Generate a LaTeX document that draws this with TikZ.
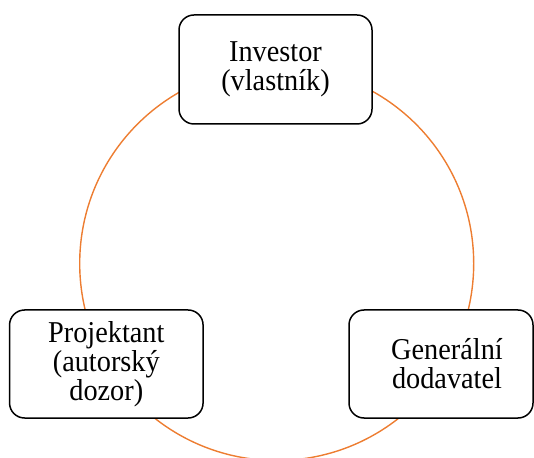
\documentclass[tikz,border=0pt]{standalone}
\usepackage{graphicx}
\usepackage{fontspec}
\setmainfont{Liberation Serif}
\definecolor{ringorange}{HTML}{ED7D31}
% each text line set slightly taller than the regular face
\newcommand\tallline[1]{\scalebox{1}[1.07]{#1}}
\begin{document}
\begin{tikzpicture}[x=1pt,y=1pt,
  stagebox/.style={draw=black, line width=1.5pt, fill=white, rounded corners=15pt,
    align=center, inner sep=0pt,
    font=\fontsize{28.3}{29}\selectfont},
  ringline/.style={draw=ringorange, line width=1.4pt}]
  \useasboundingbox (0,0) rectangle (534,457);
  \clip (0,0) rectangle (534,457);
  % ring of the cycle, behind the three stages
  \coordinate (hub) at (276.7,193.5);
  \draw[ringline] (hub) circle[radius=197];
  % stages
  \node[stagebox, minimum width=193pt, minimum height=109pt] (inv) at (275.5,387.5)
    {\tallline{Investor}\\\tallline{(vlastník)}};
  \node[stagebox, minimum width=193.5pt, minimum height=108pt] (proj) at (106.3,93)
    {\tallline{Projektant}\\\tallline{(autorský}\\\tallline{dozor)}};
  \node[stagebox, minimum width=184pt, minimum height=108pt] (gen) at (441,93)
    {\hspace*{12pt}\tallline{Generální}\\\hspace*{12pt}\tallline{dodavatel}};
\end{tikzpicture}
\end{document}
